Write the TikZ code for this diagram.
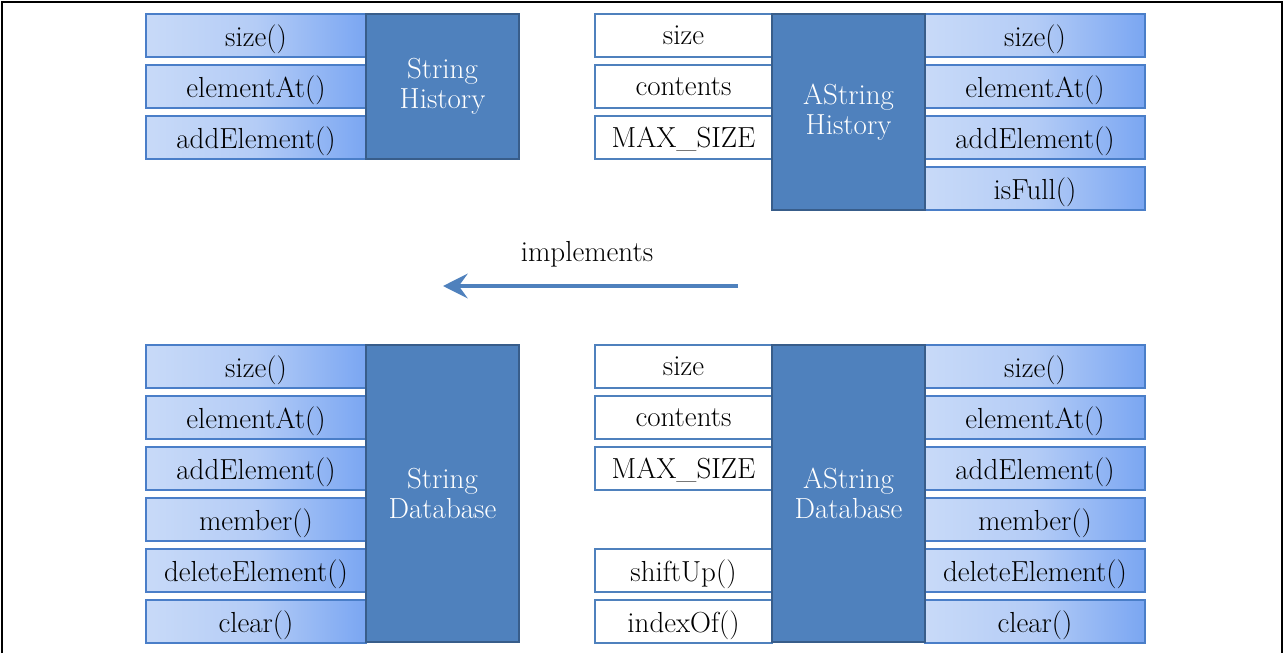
\documentclass[tikz,border=0pt]{standalone}
\usetikzlibrary{arrows.meta}

\definecolor{clsblue}{RGB}{79,129,189}
\definecolor{clsedge}{RGB}{56,93,138}
\definecolor{methedge}{RGB}{74,126,200}
\definecolor{methlight}{RGB}{200,218,248}
\definecolor{methmid}{RGB}{180,204,246}
\definecolor{methdark}{RGB}{122,166,242}
\pgfdeclarehorizontalshading{methshade}{100bp}{color(0bp)=(methlight); color(25bp)=(methlight); color(50bp)=(methmid); color(75bp)=(methdark); color(100bp)=(methdark)}

\begin{document}
\begin{tikzpicture}[x=0.02cm, y=-0.02cm,
		every node/.style={font=\fontsize{16.5}{17}\selectfont},
		method/.style={draw=methedge, line width=1pt, shading=methshade, minimum width=4.4cm, minimum height=0.86cm, inner sep=0pt, text depth=0pt},
		field/.style={draw=clsblue, line width=1.6pt, fill=white, minimum width=3.54cm, minimum height=0.86cm, inner sep=0pt, text depth=0pt},
		cls/.style={draw=clsedge, line width=1.6pt, fill=clsblue, text=white, align=center, minimum width=3.06cm, inner sep=0pt}]
			\useasboundingbox (0,0) rectangle (1285,653);
			\draw[line width=1.2pt] (2,653) -- (2,2) -- (1282,2) -- (1282,653);

			% StringHistory
			\node[method] (shsize) at (256,35.5) {size()};
			\node[method] (shelem) at (256,86.5) {elementAt()};
			\node[method] (shadd) at (256,137.5) {addElement()};
			\node[cls, minimum height=2.9cm] (sh) at (442.5,86.5) {String\\History};

			% AStringHistory
			\node[field] (ahsizef) at (683.5,35.5) {size};
			\node[field] (ahcont) at (683.5,86.5) {contents};
			\node[field] (ahmax) at (683.5,137.5) {MAX\_SIZE};
			\node[method] (ahsize) at (1035,35.5) {size()};
			\node[method] (ahelem) at (1035,86.5) {elementAt()};
			\node[method] (ahadd) at (1035,137.5) {addElement()};
			\node[method] (ahfull) at (1035,188.5) {isFull()};
			\node[cls, minimum height=3.92cm] (ah) at (848.5,112) {AString\\History};

			% implements arrow
			\node (impl) at (587,254) {implements};
			\coordinate (arrowstart) at (738,286);
			\coordinate (arrowend) at (443,286);
			\draw[-{Stealth[length=14pt, width=14pt, inset=5pt]}, clsblue, line width=2.4pt] (arrowstart) -- (arrowend);

			% StringDatabase
			\node[method] (sdsize) at (256,366.5) {size()};
			\node[method] (sdelem) at (256,417.5) {elementAt()};
			\node[method] (sdadd) at (256,468.5) {addElement()};
			\node[method] (sdmember) at (256,519.5) {member()};
			\node[method] (sddel) at (256,570.5) {deleteElement()};
			\node[method] (sdclear) at (256,621.5) {clear()};
			\node[cls, minimum height=5.94cm] (sd) at (442.5,493.5) {String\\Database};

			% AStringDatabase
			\node[field] (adsizef) at (683.5,366.5) {size};
			\node[field] (adcont) at (683.5,417.5) {contents};
			\node[field] (admax) at (683.5,468.5) {MAX\_SIZE};
			\node[field] (adshift) at (683.5,570.5) {shiftUp()};
			\node[field] (adindex) at (683.5,621.5) {indexOf()};
			\node[method] (adsize) at (1035,366.5) {size()};
			\node[method] (adelem) at (1035,417.5) {elementAt()};
			\node[method] (adadd) at (1035,468.5) {addElement()};
			\node[method] (admember) at (1035,519.5) {member()};
			\node[method] (addel) at (1035,570.5) {deleteElement()};
			\node[method] (adclear) at (1035,621.5) {clear()};
			\node[cls, minimum height=5.94cm] (ad) at (848.5,493.5) {AString\\Database};
		\end{tikzpicture}
\end{document}
